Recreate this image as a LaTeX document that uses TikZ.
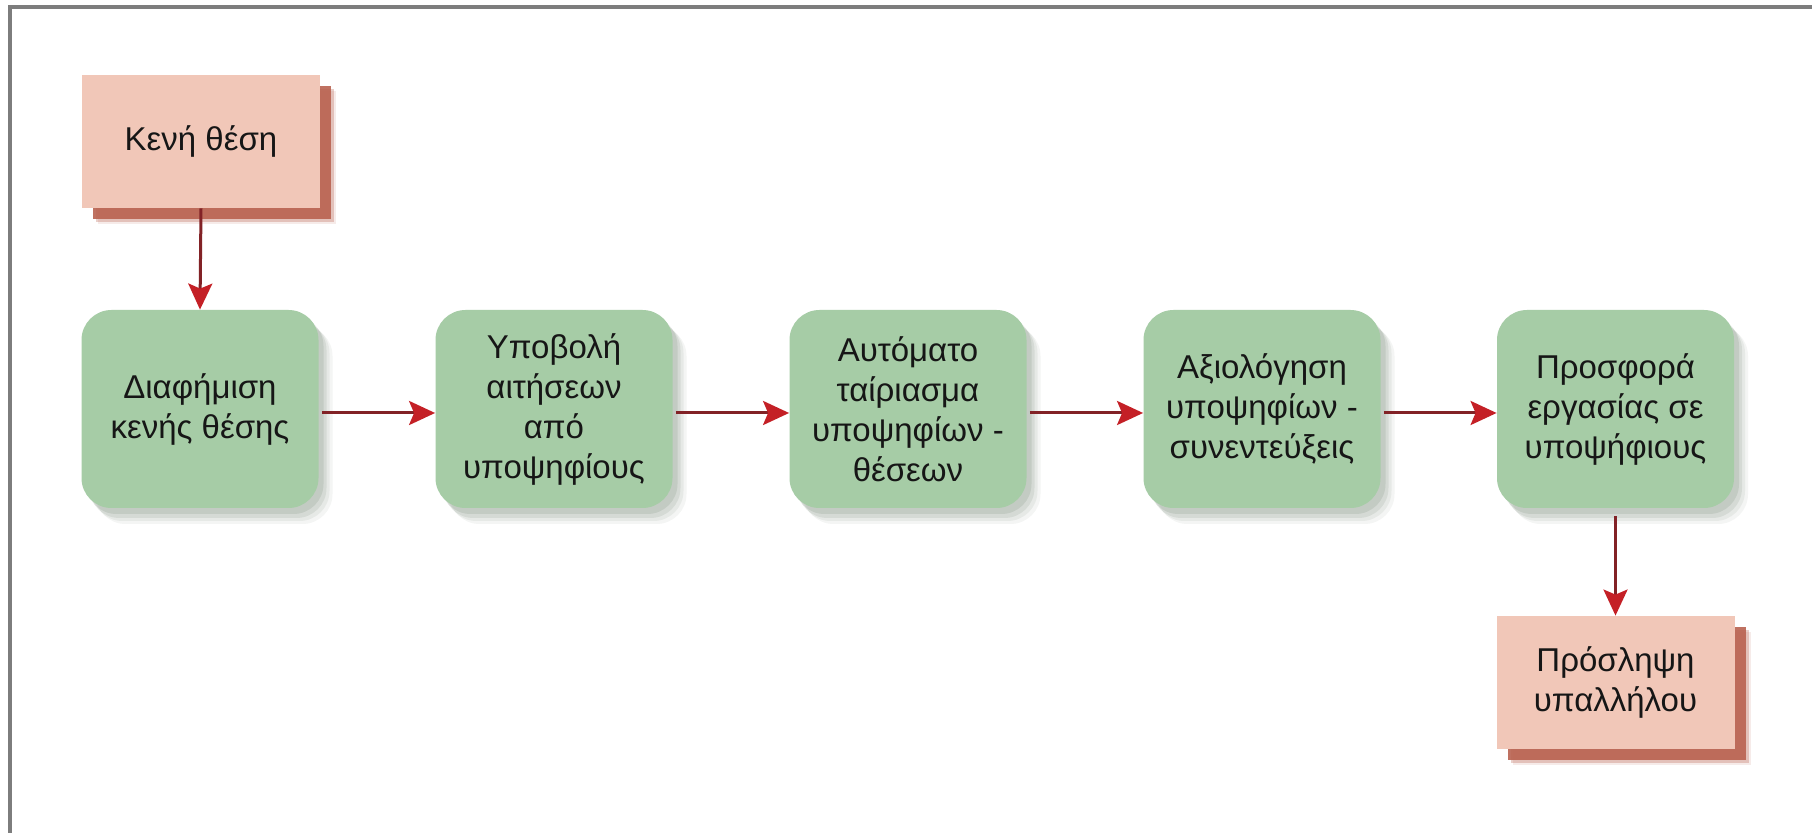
\documentclass[tikz,border=0pt]{standalone}
\usepackage{fontspec}
\setmainfont{Liberation Sans}
\usetikzlibrary{shadows,arrows.meta}

\definecolor{pinkfill}{RGB}{241,199,184}
\definecolor{pinkshade}{RGB}{185,98,80}
\definecolor{greenfill}{RGB}{166,204,166}
\definecolor{greenshade}{RGB}{70,95,70}
\definecolor{arrowline}{RGB}{130,34,38}
\definecolor{arrowhead}{RGB}{196,32,38}
\definecolor{framegray}{RGB}{125,125,125}
\definecolor{textdark}{RGB}{22,22,22}

\tikzset{
  boxtext/.style={text=textdark, font=\fontsize{16.5pt}{20pt}\selectfont, align=center},
  pinkbox/.style={boxtext, rectangle, fill=pinkfill, minimum width=119pt, minimum height=66.5pt,
    general shadow={fill=pinkshade, opacity=.12, shadow xshift=8pt, shadow yshift=-8pt},
    general shadow={fill=pinkshade, opacity=.3, shadow xshift=7pt, shadow yshift=-7pt},
    general shadow={fill=pinkshade, opacity=.9, shadow xshift=5.5pt, shadow yshift=-5.5pt}},
  greenbox/.style={boxtext, rectangle, rounded corners=15pt, fill=greenfill,
    minimum width=118.5pt, minimum height=99pt,
    general shadow={fill=greenshade, opacity=.06, shadow xshift=7pt, shadow yshift=-8pt},
    general shadow={fill=greenshade, opacity=.08, shadow xshift=5.5pt, shadow yshift=-6.5pt},
    general shadow={fill=greenshade, opacity=.10, shadow xshift=4pt, shadow yshift=-5pt},
    general shadow={fill=greenshade, opacity=.12, shadow xshift=2.5pt, shadow yshift=-3pt}},
  flow/.style={draw=arrowline, line width=1.5pt,
    -{Stealth[length=13pt, width=12pt, inset=2.5pt, color=arrowhead]}},
}

\begin{document}
\begin{tikzpicture}[x=1pt, y=1pt]
  \useasboundingbox (0,0) rectangle (906,-416.5);
  \fill[white] (0,0) rectangle (906,-416.5);
  % outer frame
  \draw[framegray, line width=1.6pt] (5,-416.5) -- (5,-3.5) -- (906,-3.5);

  % start and end boxes
  \node[pinkbox] (vacancy) at (100.5,-70.75) {Κενή θέση};
  \node[pinkbox] (hire) at (807.75,-341.25) {Πρόσληψη\\υπαλλήλου};

  % process steps
  \node[greenbox] (s1) at (100,-204.5) {Διαφήμιση\\κενής θέσης};
  \node[greenbox] (s2) at (277,-204.5) {Υποβολή\\αιτήσεων\\από\\υποψηφίους};
  \node[greenbox] (s3) at (454,-204.5) {Αυτόματο\\ταίριασμα\\υποψηφίων -\\θέσεων};
  \node[greenbox] (s4) at (631,-204.5) {Αξιολόγηση\\υποψηφίων -\\συνεντεύξεις};
  \node[greenbox] (s5) at (807.75,-204.5) {Προσφορά\\εργασίας σε\\υποψήφιους};

  % connectors
  \draw[flow] (vacancy.south) -- (s1.north);
  \draw[flow] ([xshift=1.5pt,yshift=-2pt]s1.east) -- ([yshift=-2pt]s2.west);
  \draw[flow] ([xshift=1.5pt,yshift=-2pt]s2.east) -- ([yshift=-2pt]s3.west);
  \draw[flow] ([xshift=1.5pt,yshift=-2pt]s3.east) -- ([yshift=-2pt]s4.west);
  \draw[flow] ([xshift=1.5pt,yshift=-2pt]s4.east) -- ([yshift=-2pt]s5.west);
  \draw[flow] ([yshift=-4pt]s5.south) -- (hire.north);
\end{tikzpicture}
\end{document}
